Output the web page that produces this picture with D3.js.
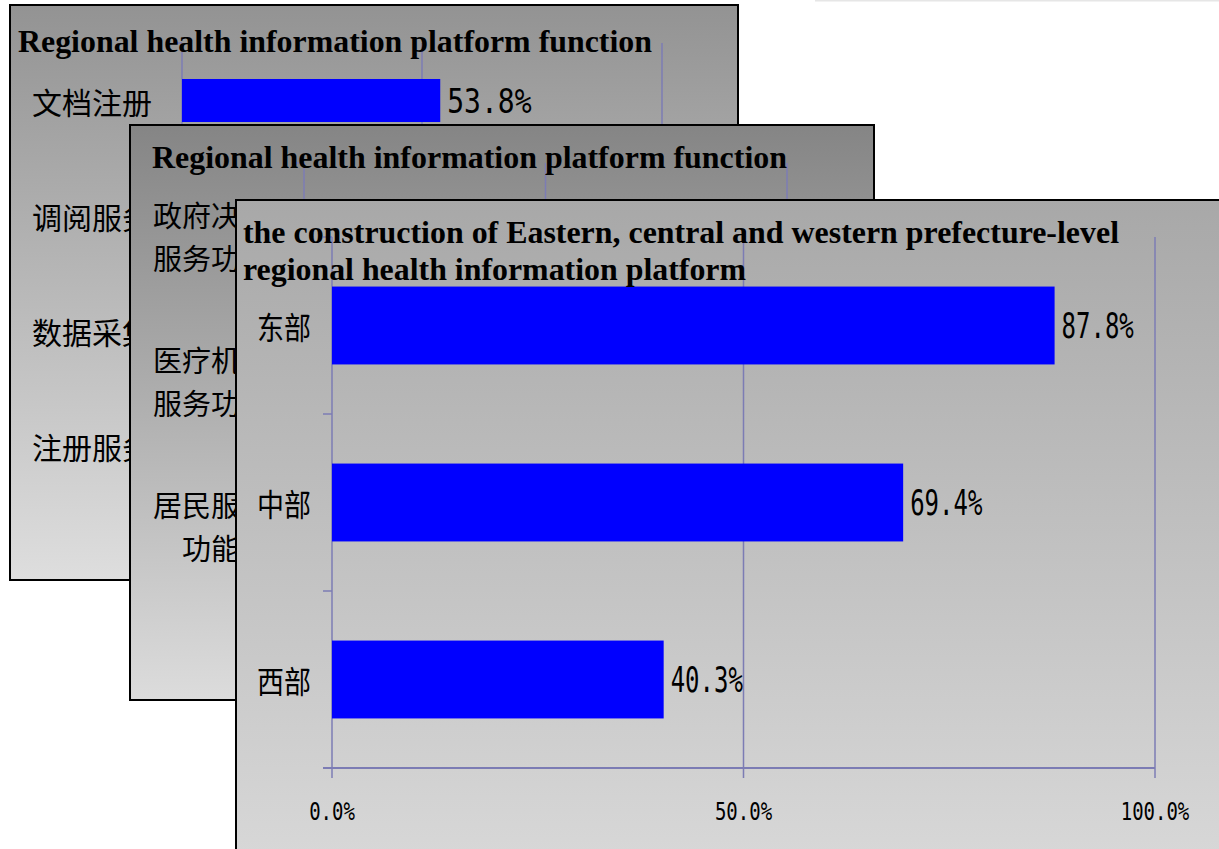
<!DOCTYPE html>
<html>
<head>
<meta charset="utf-8">
<script src="https://cdn.jsdelivr.net/npm/d3@7"></script>
<style>
  html, body { margin: 0; padding: 0; background: #fff; overflow: hidden; }
</style>
</head>
<body>
<svg id="chart" width="1219" height="849"></svg>
<script>
// ── data ──
// back slide: only the first bar can be seen, the others sit behind the next slide
const backCategories = ["文档注册", "调阅服务", "数据采集", "注册服务"];
const backValues = [53.8, null, null, null];
// middle slide: bars are fully covered
const midCategories = [["政府决策", "服务功能"], ["医疗机构", "服务功能"], ["居民服务", "功能"]];
const midValues = [null, null, null];
// front slide
const regionCategories = ["东部", "中部", "西部"];
const regionValues = [87.8, 69.4, 40.3];

const xTicks = [0, 50, 100];
const xTickLabels = ["0.0%", "50.0%", "100.0%"];

const backTitle = ["Regional health information platform function"];
const midTitle = ["Regional health information platform function"];
const frontTitle = ["the construction of Eastern, central and western prefecture-level",
                    "regional health information platform"];

const GRID = "#7c7cb4";
const svg = d3.select("#chart");
const defs = svg.append("defs");

// faint edge at the top right
svg.append("line")
  .attr("x1", 815).attr("x2", 1219).attr("y1", 0.5).attr("y2", 0.5)
  .attr("stroke", "#e6e6e6").attr("stroke-width", 2);

function fmt(v) { return v.toFixed(1) + "%"; }

function drawPanel(p) {
  const g = svg.append("g");

  const grad = defs.append("linearGradient")
    .attr("id", p.id).attr("x1", 0).attr("y1", 0).attr("x2", 0).attr("y2", 1);
  grad.append("stop").attr("offset", 0).attr("stop-color", p.grad[0]);
  grad.append("stop").attr("offset", 1).attr("stop-color", p.grad[1]);

  g.append("rect")
    .attr("x", p.box.x).attr("y", p.box.y)
    .attr("width", p.box.w).attr("height", p.box.h)
    .attr("fill", `url(#${p.id})`)
    .attr("stroke", "#000").attr("stroke-width", 2);

  const x = d3.scaleLinear().domain([0, 100]).range([p.plot.x0, p.plot.x1]);
  const y = d3.scaleBand()
    .domain(d3.range(p.cats.length))
    .range([p.plot.top, p.plot.bottom])
    .paddingInner(1 - p.barFrac)
    .paddingOuter((1 - p.barFrac) / 2);
  const step = y.step();

  // gridlines (also the value axis line at 0)
  g.append("g").selectAll("line")
    .data(xTicks).join("line")
    .attr("x1", d => x(d)).attr("x2", d => x(d))
    .attr("y1", p.plot.top).attr("y2", p.plot.bottom + 10)
    .attr("stroke", GRID).attr("stroke-width", 1.5);

  // category ticks on the left of the axis
  g.append("g").selectAll("line")
    .data(d3.range(p.cats.length)).join("line")
    .attr("x1", p.plot.x0 - 9).attr("x2", p.plot.x0)
    .attr("y1", i => p.plot.top + i * step).attr("y2", i => p.plot.top + i * step)
    .attr("stroke", GRID).attr("stroke-width", 1.5);

  // bottom axis
  g.append("line")
    .attr("x1", p.plot.x0 - 9).attr("x2", p.plot.x1)
    .attr("y1", p.plot.bottom).attr("y2", p.plot.bottom)
    .attr("stroke", GRID).attr("stroke-width", 2);

  g.append("g").selectAll("text")
    .data(xTicks).join("text")
    .attr("transform", d => `translate(${x(d)},${p.tick.y}) scale(1,${p.tick.k})`)
    .attr("text-anchor", "middle")
    .attr("dominant-baseline", "central")
    .attr("font-family", "DejaVu Sans Mono, monospace")
    .attr("font-size", p.tick.size)
    .attr("fill", "#000")
    .text((d, i) => xTickLabels[i]);

  // bars
  const barData = p.values.map((v, i) => ({ v, i })).filter(d => d.v != null);
  g.append("g").selectAll("rect")
    .data(barData).join("rect")
    .attr("x", x(0))
    .attr("y", d => y(d.i))
    .attr("width", d => x(d.v) - x(0))
    .attr("height", y.bandwidth())
    .attr("fill", "#0000ff");

  g.append("g").selectAll("text")
    .data(barData).join("text")
    .attr("transform", d => `translate(${x(d.v) + 7},${y(d.i) + y.bandwidth() / 2}) scale(1,${p.val.k})`)
    .attr("dominant-baseline", "central")
    .attr("font-family", "DejaVu Sans Mono, monospace")
    .attr("font-size", p.val.size)
    .attr("fill", "#000")
    .text(d => fmt(d.v));

  // category labels
  const lab = g.append("g").selectAll("g")
    .data(p.cats).join("g")
    .attr("transform", (d, i) => `translate(${p.labelX},${y(i) + y.bandwidth() / 2})`);
  lab.each(function (d) {
    const lines = Array.isArray(d) ? d : [d];
    const n = lines.length;
    d3.select(this).selectAll("text")
      .data(lines).join("text")
      .attr("transform", (t, j) => `translate(0,${(j - (n - 1) / 2) * p.cjk.lineH}) scale(1,${p.cjk.k})`)
      .attr("text-anchor", "middle")
      .attr("dominant-baseline", "central")
      .attr("font-family", "Noto Sans CJK SC, sans-serif")
      .attr("font-size", p.cjk.size)
      .attr("fill", "#000")
      .text(t => t);
  });

  // title
  g.append("g").selectAll("text")
    .data(p.title).join("text")
    .attr("x", p.titlePos.x)
    .attr("y", (d, i) => p.titlePos.y + i * 37)
    .attr("font-family", "Liberation Serif, Times New Roman, serif")
    .attr("font-weight", "bold")
    .attr("font-size", 32)
    .attr("textLength", (d, i) => p.titlePos.w[i])
    .attr("lengthAdjust", "spacingAndGlyphs")
    .attr("fill", "#000")
    .text(d => d);
}

drawPanel({
  id: "gBack",
  box: { x: 10, y: 5, w: 728, h: 575 },
  grad: ["#939393", "#dedede"],
  title: backTitle,
  titlePos: { x: 18, y: 52, w: [634] },
  plot: { x0: 182, x1: 662, top: 43, bottom: 503 },
  cats: backCategories, values: backValues,
  barFrac: 0.374,
  labelX: 92,
  cjk: { size: 30, k: 1, lineH: 43 },
  val: { size: 28, k: 1.22 },
  tick: { y: 540, size: 22, k: 1.3 }
});

drawPanel({
  id: "gMid",
  box: { x: 130, y: 125, w: 744, h: 575 },
  grad: ["#858585", "#dcdcdc"],
  title: midTitle,
  titlePos: { x: 152, y: 168, w: [635] },
  plot: { x0: 304, x1: 787, top: 163, bottom: 598 },
  cats: midCategories, values: midValues,
  barFrac: 0.44,
  labelX: 211,
  cjk: { size: 29, k: 1, lineH: 43 },
  val: { size: 26, k: 1.3 },
  tick: { y: 640, size: 20, k: 1.3 }
});

drawPanel({
  id: "gFront",
  box: { x: 236, y: 200, w: 1100, h: 750 },
  grad: ["#a8a8a8", "#dedede"],
  title: frontTitle,
  titlePos: { x: 243, y: 243, w: [876, 503] },
  plot: { x0: 332, x1: 1155, top: 237, bottom: 768 },
  cats: regionCategories, values: regionValues,
  barFrac: 0.44,
  labelX: 284,
  cjk: { size: 27, k: 1.15, lineH: 40 },
  val: { size: 24, k: 1.5 },
  tick: { y: 811, size: 19, k: 1.35 }
});
</script>
</body>
</html>
